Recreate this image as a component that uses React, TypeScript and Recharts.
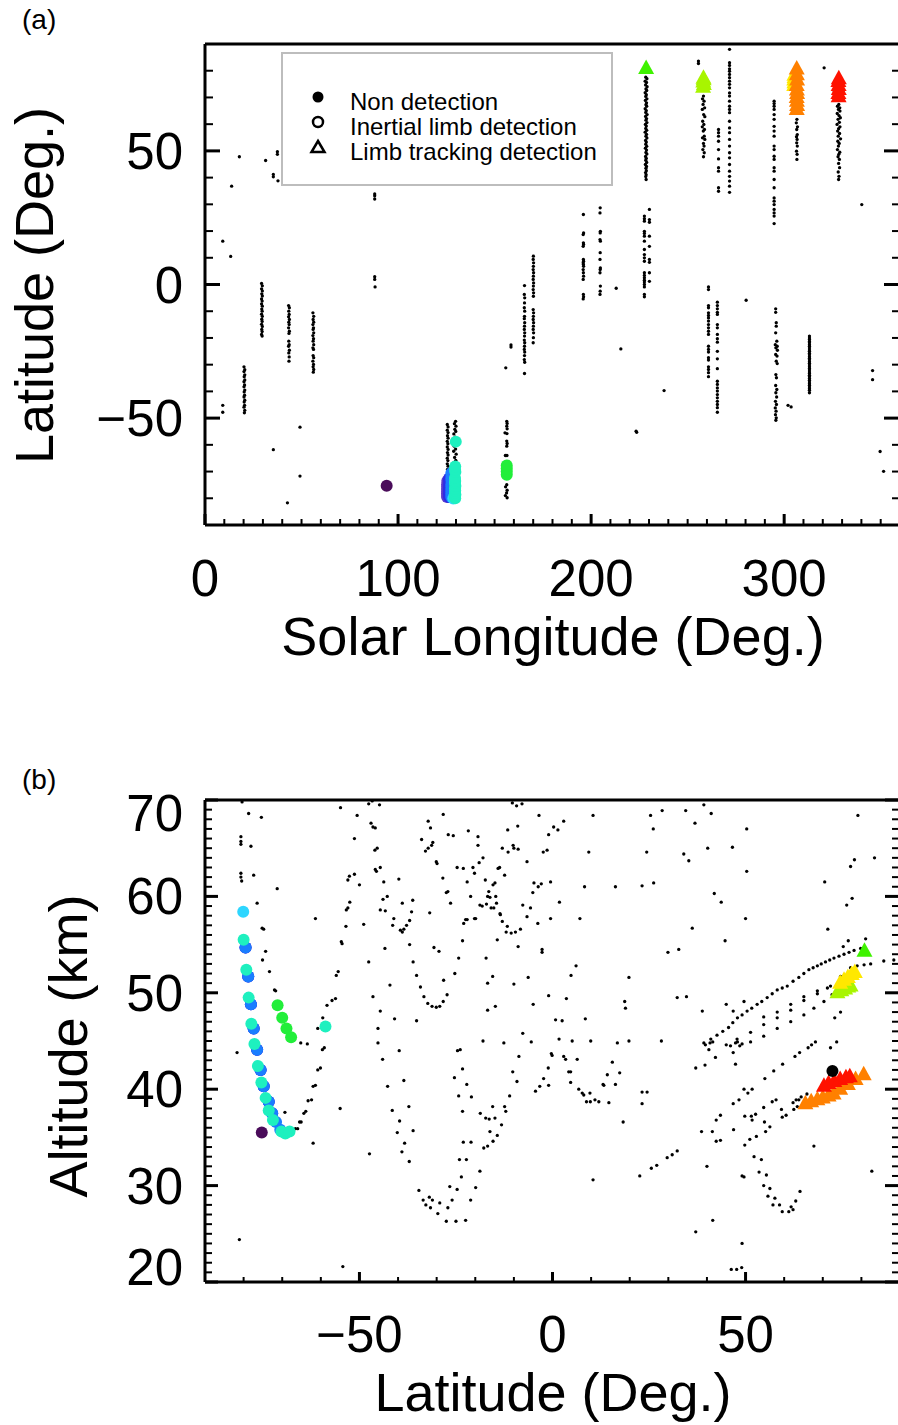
import React from 'react';
import { ScatterChart, Scatter, XAxis, YAxis } from 'recharts';

type P2 = [number, number];
type P3 = [number, number, number];

const FONT = '"Liberation Sans", Arial, Helvetica, sans-serif';

// ---------------- axis ticks ----------------
const lsTicks = [0, 10, 20, 30, 40, 50, 60, 70, 80, 90, 100, 110, 120, 130, 140, 150, 160, 170, 180, 190, 200, 210, 220, 230, 240, 250, 260, 270, 280, 290, 300, 310, 320, 330, 340, 350, 360];
const lsLabels = [0, 100, 200, 300];
const latTicks = [-90, -80, -70, -60, -50, -40, -30, -20, -10, 0, 10, 20, 30, 40, 50, 60, 70, 80, 90];
const latLabels = [-50, 0, 50];
const altTicks = [20, 21, 22, 23, 24, 25, 26, 27, 28, 29, 30, 31, 32, 33, 34, 35, 36, 37, 38, 39, 40, 41, 42, 43, 44, 45, 46, 47, 48, 49, 50, 51, 52, 53, 54, 55, 56, 57, 58, 59, 60, 61, 62, 63, 64, 65, 66, 67, 68, 69, 70];
const altLabels = [20, 30, 40, 50, 60, 70];

// ---------------- panel (a): non detections [Ls, latitude] ----------------
const ndLsLatEarly: P2[] = [
  [9.2, 16.2], [13.3, 10.5], [13.8, 36.8], [17.8, 47.8], [31.4, 46.4], [35.4, 41.2], [35.4, 40.3], [37.5, 49.7], [37.5, 48.7], [37.8, 38.8],
  [87.9, 33.9], [87.9, 33.2], [87.9, 32.0], [87.9, 2.9], [87.9, 1.9], [88.1, -0.9],
  [9.2, -45.2], [9.2, -47.8], [35.4, -61.8], [49.2, -53.4], [49.2, -71.7], [42.7, -81.7],
  [20.2, -30.8], [20.6, -31.9], [20.2, -32.6], [20.6, -33.8], [20.3, -34.5], [20.6, -35.7], [20.2, -36.4], [20.5, -37.6], [20.2, -38.3], [20.6, -39.5],
  [20.3, -40.2], [20.5, -41.4], [20.2, -42.1], [20.6, -43.3], [20.3, -44.0], [20.5, -45.2], [20.2, -45.9], [20.6, -47.1], [20.4, -48.0],
  [29.3, 0.4], [29.7, -0.5], [29.3, -1.6], [29.7, -2.4], [29.4, -3.5], [29.7, -4.3], [29.3, -5.4], [29.6, -6.2], [29.3, -7.3], [29.7, -8.1], [29.4, -9.2],
  [29.6, -10.0], [29.3, -11.1], [29.7, -11.9], [29.4, -13.0], [29.6, -13.8], [29.3, -14.9], [29.7, -15.7], [29.4, -16.8], [29.6, -17.6], [29.3, -18.7], [29.6, -19.3],
  [43.3, -7.9], [43.7, -8.7], [43.4, -10.0], [43.6, -11.2], [43.3, -12.1], [43.7, -13.1], [43.4, -14.1], [43.6, -15.0], [43.3, -16.2], [43.7, -17.5],
  [43.5, -18.3], [43.4, -21.2], [43.6, -22.5], [43.3, -23.1], [43.7, -24.6], [43.4, -25.6], [43.6, -27.1], [43.5, -28.7],
  [55.9, -10.6], [56.3, -11.9], [56.0, -13.1], [56.3, -14.1], [55.9, -15.0], [56.2, -16.2], [56.0, -16.8], [56.3, -18.1], [55.9, -19.1], [56.2, -20.3],
  [56.0, -21.2], [56.3, -22.5], [55.9, -23.7], [56.2, -24.3], [56.0, -26.6], [56.3, -27.4], [55.9, -28.7], [56.2, -29.9], [56.0, -30.8], [56.3, -31.8], [56.1, -32.8],
];

const ndLsLatMid: P2[] = [
  [125.5, -52.4], [125.9, -53.3], [125.5, -54.5], [125.9, -55.4], [125.6, -56.6], [125.9, -57.5], [125.5, -58.7], [125.8, -59.6], [125.5, -60.8], [125.9, -61.7],
  [125.6, -62.9], [125.9, -63.8], [125.5, -65.0], [125.8, -65.9], [125.5, -67.1], [125.9, -68.0], [125.6, -69.2], [125.8, -70.1], [125.5, -71.3], [125.9, -72.2],
  [125.6, -73.4], [125.8, -74.5], [125.5, -75.6], [125.9, -76.7], [125.6, -77.8], [125.8, -78.9], [125.5, -80.0], [125.8, -81.1],
  [129.8, -51.2], [129.2, -52.1], [130.0, -53.0], [129.4, -54.2], [129.9, -55.0], [128.9, -55.9], [129.6, -57.1], [130.3, -58.0], [129.1, -60.5], [129.8, -61.6],
  [128.8, -62.4], [130.1, -63.5], [129.3, -64.7], [129.9, -65.8], [129.0, -66.6], [130.4, -67.5], [128.9, -74.0], [128.7, -78.0],
  [156.3, -51.2], [156.5, -52.0], [156.3, -53.0], [156.5, -54.0], [155.4, -55.5], [156.4, -55.8], [156.3, -58.6], [156.5, -59.5], [156.3, -60.5], [155.6, -64.0],
  [156.4, -64.0], [156.3, -74.9], [155.7, -75.7], [156.5, -77.0], [156.2, -78.0], [155.6, -79.0], [156.5, -79.8], [155.8, -31.2], [158.5, -22.6], [158.5, -23.4],
  [165.5, -0.4], [165.4, -3.7], [165.6, -5.0], [165.5, -6.9], [165.4, -8.7], [165.6, -10.0], [165.5, -11.9], [165.4, -12.8], [165.6, -14.3], [165.5, -15.6],
  [165.4, -16.8], [165.6, -18.1], [165.5, -19.3], [165.4, -20.8], [165.6, -21.8], [165.5, -23.1], [165.4, -24.3], [165.6, -25.3], [165.5, -26.6], [165.4, -28.1],
  [165.6, -29.1], [165.5, -33.3],
  [170.1, 10.6], [170.0, 9.4], [170.2, 8.1], [170.1, 6.8], [170.0, 5.6], [170.2, 4.4], [170.1, 3.1], [170.0, 1.9], [170.2, 0.6], [170.1, -0.6], [170.0, -1.9],
  [170.2, -3.1], [170.1, -4.4], [170.0, -9.4], [170.2, -10.6], [170.1, -11.9], [170.0, -13.1], [170.2, -14.3], [170.1, -15.6], [170.0, -16.8], [170.2, -18.1],
  [170.1, -19.9], [170.0, -21.8],
];

const ndLsLatLate: P2[] = [
  [196.0, 26.2], [196.1, 19.3], [195.9, 18.7], [196.0, 15.6], [196.1, 15.0], [195.9, 14.3], [196.0, 9.4], [196.1, 8.7], [195.9, 8.1], [196.0, 7.5], [196.1, 6.8],
  [195.9, 5.6], [196.0, 4.4], [196.1, 3.1], [195.9, 1.9], [196.0, -3.7], [196.1, -4.6], [195.9, -5.4],
  [204.7, 28.7], [204.6, 26.8], [204.8, 19.9], [204.7, 19.3], [204.6, 16.8], [204.8, 16.2], [204.7, 11.9], [204.6, 9.4], [204.8, 6.2], [204.7, 5.6], [204.6, 4.4],
  [204.8, -0.6], [204.7, -2.5], [204.6, -3.7], [213.0, -1.4],
  [227.6, 25.6], [227.6, 24.6], [227.6, 23.7], [227.6, 19.9], [227.6, 19.1], [227.6, 18.1], [227.6, 16.2], [227.6, 13.1], [227.6, 11.2], [227.6, 10.0],
  [227.6, 8.7], [227.6, 4.4], [227.6, 3.4], [227.6, 2.5], [227.6, 1.6], [227.6, 0.9], [227.6, 0.0], [227.6, -0.9], [227.6, -3.7], [227.6, -4.6],
  [230.2, 28.1], [230.2, 24.3], [230.2, 23.3], [230.2, 18.1], [230.2, 14.3], [230.2, 9.4], [230.2, 8.3], [230.2, 4.4], [230.2, 1.2],
  [215.4, -24.1], [237.8, -39.7], [223.3, -54.9], [223.6, -55.3], [280.3, -5.9],
  [228.3, 77.6], [228.9, 77.0], [228.0, 76.1], [228.7, 75.6], [228.2, 74.7], [229.0, 74.0], [228.4, 73.2], [228.8, 72.6], [228.0, 71.8], [228.6, 71.0],
  [228.3, 70.4], [228.9, 69.5], [228.1, 68.9], [228.7, 68.0], [228.4, 67.3], [228.8, 66.7], [228.0, 65.8], [228.6, 65.1], [228.3, 64.4], [229.0, 63.6],
  [228.2, 62.9], [228.7, 62.1], [228.4, 61.5], [228.9, 60.6], [228.1, 59.9], [228.6, 59.3], [228.3, 58.4], [228.8, 57.7], [228.0, 57.0], [228.7, 56.2],
  [228.4, 55.5], [228.9, 54.8], [228.2, 53.9], [228.6, 53.3], [228.3, 52.5], [228.8, 51.7], [228.1, 51.0], [228.7, 50.3], [228.4, 49.4], [228.9, 48.8],
  [228.2, 47.9], [228.6, 47.2], [228.3, 46.5], [228.8, 45.7], [228.1, 44.9], [228.7, 44.2], [228.4, 43.5], [228.6, 42.6], [228.2, 41.9], [228.5, 41.1],
  [228.3, 40.4], [228.5, 39.3],
  [255.6, 83.6], [255.6, 82.7],
  [258.2, 70.5], [257.7, 69.5], [258.5, 68.6], [258.0, 67.4], [258.8, 66.1], [257.6, 65.5], [258.3, 63.6], [258.9, 62.8], [257.8, 61.1], [258.4, 59.9],
  [257.6, 59.0], [258.7, 58.0], [258.1, 57.4], [258.6, 55.5], [257.7, 54.9], [258.9, 54.3], [258.2, 52.8], [258.5, 51.8], [257.9, 50.5], [258.6, 49.3], [258.2, 47.8],
  [266.0, 58.0], [266.0, 56.8], [266.0, 55.5], [266.0, 53.6], [266.0, 50.5], [266.0, 47.0], [266.0, 43.7], [266.0, 42.4], [266.0, 36.2], [266.0, 34.9],
  [271.7, 88.0], [271.7, 83.0], [271.7, 82.0], [271.7, 80.7], [271.7, 79.8], [271.7, 78.6], [271.7, 77.4], [271.7, 76.1], [271.7, 74.9], [271.7, 73.6],
  [271.7, 71.7], [271.7, 70.5], [271.7, 68.6], [271.7, 66.7], [271.7, 65.5], [271.7, 64.3], [271.7, 61.1], [271.7, 58.6], [271.7, 56.8], [271.7, 54.3],
  [271.7, 51.8], [271.7, 49.3], [271.7, 47.4], [271.7, 44.9], [271.7, 42.4], [271.7, 40.5], [271.7, 38.7], [271.7, 36.8], [271.7, 34.5],
  [294.8, 68.6], [294.8, 67.7], [294.8, 66.7], [294.8, 65.5], [294.8, 63.6], [294.8, 61.8], [294.8, 59.2], [294.8, 57.4], [294.8, 55.5], [294.8, 51.8],
  [294.8, 50.5], [294.8, 48.0], [294.8, 46.8], [294.8, 43.7], [294.8, 42.4], [294.8, 39.3], [294.8, 36.2], [294.8, 32.4], [294.8, 31.2], [294.8, 29.9],
  [294.8, 28.1], [294.8, 26.8], [294.8, 25.6], [294.8, 22.8],
  [306.6, 61.8], [306.3, 60.5], [306.9, 59.0], [306.5, 58.0], [306.8, 56.1], [306.4, 55.3], [306.7, 54.3], [306.5, 53.0], [306.8, 51.8], [306.4, 49.9],
  [306.7, 48.7], [306.6, 46.8], [320.7, 81.1],
  [328.3, 67.4], [327.6, 66.7], [328.8, 66.1], [328.1, 65.5], [328.9, 64.9], [327.5, 64.0], [328.4, 63.2], [329.1, 62.4], [327.9, 61.8], [328.6, 60.7],
  [327.4, 59.9], [328.9, 59.0], [328.2, 58.3], [327.7, 57.4], [328.7, 56.5], [328.0, 55.5], [329.2, 54.5], [327.8, 53.6], [328.5, 52.8], [328.1, 51.8],
  [327.6, 50.5], [328.8, 49.5], [328.3, 48.7], [327.9, 47.8], [328.6, 46.8], [328.2, 45.3], [328.7, 43.7], [328.0, 42.1], [328.4, 40.5], [328.2, 39.3],
  [340.2, 29.9],
  [260.8, -0.9], [260.8, -1.9], [260.8, -7.9], [260.8, -8.7], [260.8, -10.6], [260.8, -11.6], [260.8, -12.5], [260.8, -13.7], [260.8, -15.0], [260.8, -16.2],
  [260.8, -17.5], [260.8, -18.7], [260.8, -23.1], [260.8, -24.3], [260.8, -25.3], [260.8, -27.4], [260.8, -28.3], [260.8, -30.8], [260.8, -31.8], [260.8, -33.0], [260.8, -34.5],
  [265.4, -6.6], [265.4, -7.9], [265.4, -9.1], [265.4, -10.4], [265.4, -11.2], [265.4, -15.0], [265.4, -16.2], [265.4, -18.7], [265.4, -20.3], [265.4, -21.6],
  [265.4, -25.0], [265.4, -27.8], [265.4, -31.5], [265.4, -36.2], [265.4, -37.4], [265.4, -38.7], [265.4, -39.9], [265.4, -41.2], [265.4, -42.4], [265.4, -43.7],
  [265.4, -44.9], [265.4, -46.1], [265.4, -47.8],
  [295.6, -9.1], [295.6, -10.4], [295.9, -14.3], [295.9, -15.6], [295.6, -18.1], [296.2, -21.2], [295.4, -22.5], [296.4, -23.1], [295.7, -23.7], [296.5, -24.6],
  [295.6, -26.2], [296.3, -26.8], [295.9, -28.7], [296.4, -29.6], [295.7, -33.7], [296.0, -34.9], [295.6, -37.8], [296.2, -39.3], [295.7, -40.5], [296.1, -42.1],
  [295.5, -43.7], [296.0, -44.9], [295.4, -46.2], [295.8, -47.4], [295.5, -48.7], [295.9, -49.9], [295.7, -50.8],
  [313.1, -19.3], [313.1, -20.0], [313.1, -20.6], [313.1, -21.3], [313.1, -21.8], [313.1, -22.5], [313.1, -23.1], [313.1, -23.8], [313.1, -24.5], [313.1, -25.0],
  [313.1, -25.7], [313.1, -26.3], [313.1, -27.0], [313.1, -27.6], [313.1, -28.2], [313.1, -28.9], [313.1, -29.5], [313.1, -30.1], [313.1, -30.8], [313.1, -31.4],
  [313.1, -32.0], [313.1, -32.7], [313.1, -33.3], [313.1, -34.0], [313.1, -34.5], [313.1, -35.2], [313.1, -35.8], [313.1, -36.5], [313.1, -37.1], [313.1, -37.7],
  [313.1, -38.4], [313.1, -39.0], [313.1, -39.6], [313.1, -40.5],
  [302.0, -45.2], [303.6, -45.8], [345.8, -32.2], [345.8, -35.6], [349.7, -62.5], [351.5, -69.9],
];

// ---------------- panel (b): non detections [latitude, altitude km] ----------------
const ndLatAltSouth: P2[] = [
  [-80.4, 69.8], [-78.7, 68.6], [-75.4, 68.2], [-80.7, 66.2], [-80.7, 65.7], [-80.7, 65.4], [-78.1, 65.2], [-80.7, 62.4], [-80.7, 62.0], [-80.5, 61.6],
  [-77.4, 62.2], [-71.3, 60.8], [-76.5, 59.3], [-75.2, 56.7], [-74.8, 56.6], [-74.3, 54.3], [-75.1, 53.4], [-73.3, 52.2], [-72.0, 50.3], [-71.7, 50.2],
  [-65.2, 44.8], [-63.5, 44.7], [-61.4, 57.7], [-59.5, 47.4], [-60.8, 46.3], [-58.4, 48.7], [-57.1, 49.2], [-56.2, 49.4], [-56.0, 51.8], [-55.5, 52.2],
  [-54.5, 55.1], [-54.7, 55.3], [-53.5, 56.9], [-53.4, 58.6], [-53.0, 58.8], [-52.5, 59.4], [-53.0, 61.7], [-52.6, 62.1], [-51.3, 62.3], [-50.0, 61.2],
  [-51.3, 66.0], [-50.6, 68.4], [-54.9, 69.2], [-48.9, 57.1], [-47.6, 53.2], [-46.5, 49.6], [-44.6, 48.1], [-45.2, 46.3], [-45.2, 44.8], [-47.6, 69.6],
  [-46.7, 69.9], [-44.8, 69.5], [-47.0, 67.6], [-46.5, 67.2], [-45.9, 67.1], [-46.0, 64.8], [-45.4, 65.0], [-45.9, 62.8], [-45.6, 62.6], [-44.6, 63.0],
  [-43.7, 61.5], [-43.9, 59.7], [-42.8, 60.0], [-44.6, 58.6], [-43.3, 58.5], [-41.1, 57.7], [-41.4, 57.0], [-43.4, 54.6], [-42.1, 50.8], [-40.9, 47.3],
  [-81.7, 43.8], [-81.1, 24.4], [-69.3, 37.6], [-66.6, 35.9], [-66.0, 35.9], [-65.5, 36.6], [-65.1, 36.6], [-64.4, 37.5], [-63.9, 37.7], [-63.3, 38.8],
  [-62.4, 38.9], [-62.0, 40.3], [-61.4, 40.4], [-60.8, 42.0], [-60.1, 42.2], [-59.6, 44.1], [-59.1, 44.3], [-62.0, 34.4], [-55.0, 38.0], [-54.3, 21.6],
  [-47.4, 33.3], [-44.0, 43.1], [-42.7, 40.3], [-41.5, 37.8],
];

const ndLatAltMid: P2[] = [
  [-39.4, 56.5], [-38.5, 56.6], [-38.9, 56.3], [-37.8, 57.0], [-37.0, 57.5], [-38.9, 59.3], [-39.8, 61.8], [-37.0, 55.0], [-36.1, 53.2], [-35.2, 51.8],
  [-34.2, 50.6], [-33.3, 49.6], [-32.3, 48.9], [-31.2, 48.6], [-30.1, 48.5], [-29.2, 48.6], [-28.3, 49.1], [-27.3, 49.8], [-35.2, 47.1], [-36.5, 58.4],
  [-36.2, 59.6], [-33.9, 65.9], [-32.2, 67.8], [-31.6, 67.1], [-31.0, 65.6], [-31.3, 65.3], [-32.9, 64.7], [-32.2, 65.0], [-29.9, 63.4], [-30.1, 63.6],
  [-28.3, 68.5], [-27.5, 60.4], [-27.1, 60.5], [-27.0, 66.4], [-25.7, 66.3], [-28.4, 61.9], [-26.4, 59.3], [-31.8, 58.3], [-30.7, 54.7], [-29.4, 54.3],
  [-24.3, 53.6], [-25.3, 52.0], [-28.2, 51.3], [-23.3, 55.4], [-24.7, 63.0], [-23.1, 62.9], [-21.8, 66.8], [-20.6, 63.0], [-20.2, 62.4], [-19.0, 63.5],
  [-18.0, 64.0], [-19.3, 66.2], [-19.3, 65.3], [-22.1, 61.5], [-23.0, 57.2], [-22.5, 57.6], [-22.1, 57.6], [-21.2, 60.0], [-20.2, 57.7], [-19.9, 57.7],
  [-18.8, 59.1], [-18.2, 59.0], [-17.1, 59.2], [-16.8, 60.0], [-16.2, 59.9], [-16.5, 60.5], [-15.4, 61.2], [-14.9, 61.4], [-15.9, 58.8], [-15.2, 58.8],
  [-14.5, 59.3], [-14.1, 62.9], [-13.7, 63.0], [-14.7, 60.0], [-13.6, 58.2], [-12.4, 62.2], [-13.0, 65.0], [-17.4, 61.7], [-17.2, 53.6], [-16.8, 51.0],
  [-15.5, 51.7], [-16.8, 48.2], [-14.8, 48.6], [-18.0, 45.0], [-12.6, 44.8], [-14.3, 55.5], [-13.5, 58.1], [-13.0, 57.4], [-11.7, 56.9], [-12.0, 56.3],
  [-10.7, 56.2], [-9.6, 56.3], [-8.3, 56.6], [-11.5, 64.6], [-10.2, 65.3], [-10.0, 65.0], [-8.9, 64.9], [-11.6, 66.9], [-9.0, 67.3], [-10.4, 69.7],
  [-9.3, 69.4], [-7.9, 69.6], [-6.6, 63.6], [-7.7, 59.1], [-6.6, 57.9], [-5.7, 58.8], [-8.9, 54.8], [-10.0, 50.9], [-6.3, 51.6], [-5.1, 60.4],
  [-4.8, 61.4], [-3.7, 61.0], [-2.9, 61.3], [-2.7, 54.5], [-2.7, 54.2], [-3.8, 57.2], [-5.0, 48.8], [-7.7, 45.8], [-5.5, 44.9], [-3.5, 68.4],
  [-1.0, 66.4], [-1.4, 64.8], [-2.4, 64.6], [-1.0, 49.7],
  [-39.6, 36.7], [-40.2, 35.5], [-38.3, 34.4], [-39.0, 33.5], [-37.1, 32.5], [-39.7, 44.0], [-38.5, 40.9], [-37.2, 38.2], [-36.1, 35.7], [-34.6, 29.5],
  [-33.5, 28.5], [-32.8, 28.0], [-31.9, 28.8], [-31.1, 28.5], [-31.6, 27.7], [-29.7, 27.1], [-29.2, 28.2], [-27.5, 26.3], [-27.1, 27.7], [-26.6, 29.9],
  [-26.0, 28.5], [-25.0, 26.3], [-24.7, 29.6], [-24.1, 32.7], [-23.6, 30.9], [-23.1, 34.5], [-22.3, 32.7], [-22.5, 26.4], [-21.2, 28.5], [-21.1, 34.5],
  [-19.9, 29.8], [-18.8, 31.5], [-21.0, 39.2], [-22.2, 40.5], [-23.3, 42.1], [-25.4, 41.2], [-24.3, 39.3], [-23.3, 37.7], [-24.6, 44.0], [-23.9, 44.1],
  [-18.7, 37.5], [-17.8, 33.9], [-17.3, 37.0], [-16.8, 34.1], [-16.4, 36.9], [-16.2, 35.6], [-15.4, 34.6], [-15.5, 38.2], [-14.9, 37.0], [-14.3, 35.2],
  [-13.2, 36.3], [-12.4, 38.2], [-12.1, 37.7], [-11.1, 39.3], [-10.3, 41.8], [-9.2, 40.8], [-8.7, 43.4], [-4.4, 39.8], [-3.3, 40.3], [-2.3, 41.1],
  [-1.0, 40.4], [-1.1, 42.2], [-0.3, 43.7],
  [0.3, 67.2], [1.4, 66.9], [2.9, 67.8], [-0.5, 61.5], [1.8, 59.4], [-0.5, 57.7], [4.8, 51.8], [6.1, 52.8], [3.6, 49.4], [0.8, 47.2], [2.5, 47.1],
  [1.7, 45.2], [5.1, 45.0], [9.9, 45.0], [8.5, 47.3], [9.4, 64.6], [8.3, 61.0], [7.1, 57.7],
  [-0.1, 43.5], [2.9, 43.4], [3.4, 43.1], [6.4, 43.1], [4.2, 41.8], [4.7, 41.8], [4.7, 40.7], [6.8, 40.0], [7.7, 39.6], [8.1, 39.4], [8.8, 38.7],
  [9.8, 38.7], [9.7, 39.6],
];

const ndLatAltNorth: P2[] = [
  [10.5, 68.4], [16.3, 61.0], [23.2, 61.1], [26.2, 61.4], [19.8, 51.6], [18.7, 49.1], [18.9, 48.4], [16.8, 44.8], [19.8, 45.0], [25.4, 68.4],
  [28.4, 68.9], [26.1, 67.0], [24.4, 64.6], [34.5, 68.9], [36.9, 67.6], [39.2, 69.5], [41.1, 68.6], [40.2, 65.0], [46.6, 65.1], [34.0, 64.4],
  [35.3, 63.7], [41.9, 60.3], [43.7, 59.4], [44.7, 55.4], [36.2, 56.7], [29.9, 54.2], [32.7, 54.5], [32.3, 49.5], [34.7, 49.6], [38.8, 48.1],
  [45.0, 48.8], [46.8, 48.1], [49.6, 49.1], [50.3, 67.0], [50.3, 62.6], [50.0, 57.7], [70.5, 61.5], [71.3, 56.6], [79.1, 68.4], [78.2, 63.8],
  [77.2, 63.1], [83.4, 64.0], [77.6, 59.8], [76.2, 59.1], [75.3, 54.8], [76.6, 55.4], [81.1, 55.6], [73.1, 47.4], [74.6, 48.0], [73.6, 44.9],
  [68.1, 44.9], [85.8, 53.3], [88.4, 53.4],
  // dotted tracks toward the north polar region
  [39.2, 44.8], [41.0, 45.2], [42.6, 45.6], [44.1, 46.0], [45.6, 46.4], [46.7, 46.9], [47.9, 47.4], [49.1, 47.7], [50.4, 48.1], [51.6, 48.4],
  [53.0, 48.8], [54.2, 49.1], [55.6, 49.5], [56.9, 49.9], [58.2, 50.3], [59.5, 50.5], [60.8, 50.7], [62.3, 51.2], [63.8, 51.6], [65.1, 52.0],
  [66.4, 52.4], [67.5, 52.6], [68.6, 52.8], [69.6, 53.0], [70.7, 53.2], [71.8, 53.4], [72.9, 53.6], [74.2, 53.8], [75.5, 54.0], [76.8, 54.2],
  [78.1, 54.4], [79.8, 54.6],
  [47.8, 45.2], [51.3, 45.9], [54.7, 46.7], [58.2, 47.4], [61.7, 48.2], [65.1, 49.2], [68.6, 49.9], [72.0, 50.7], [74.6, 51.7], [77.2, 52.6],
  [78.9, 52.8], [80.7, 52.9], [82.4, 53.0],
  [54.7, 47.5], [58.2, 48.0], [61.7, 48.8], [65.1, 49.6], [68.6, 50.2], [71.2, 50.5],
  [51.3, 44.9], [54.7, 45.5], [58.2, 46.3], [61.7, 47.0], [65.1, 47.7], [67.7, 48.4], [70.3, 49.1], [72.4, 49.8],
  [11.0, 38.9], [12.0, 38.7], [13.1, 40.5], [13.3, 40.4], [14.6, 38.6], [15.5, 42.8], [16.3, 40.5], [14.2, 41.5], [17.4, 41.7], [18.3, 36.6],
  [10.5, 30.6], [23.2, 39.7], [24.5, 39.7], [23.2, 38.5], [22.6, 31.0], [25.6, 31.8], [27.0, 32.1], [29.7, 32.9], [31.0, 33.2], [32.3, 33.6],
  [28.2, 45.0], [37.1, 42.2], [39.5, 42.5], [40.5, 44.1], [39.6, 44.6], [40.8, 44.8], [41.5, 44.9], [42.2, 43.3], [45.0, 44.6], [46.1, 44.5],
  [46.8, 43.8], [47.4, 44.8], [47.9, 44.9], [48.5, 44.5], [49.1, 44.7], [47.4, 42.6], [48.3, 38.9], [46.8, 38.5], [49.6, 40.0], [50.6, 39.6],
  [51.7, 40.0], [38.6, 35.6], [41.4, 35.6], [42.4, 36.8], [42.4, 34.6], [43.5, 34.7], [43.5, 37.3], [40.0, 32.0], [46.9, 35.8], [49.8, 37.2],
  [51.1, 34.8], [51.5, 37.2], [51.7, 36.8], [52.6, 37.4], [52.8, 35.1], [54.7, 38.1], [54.9, 36.6], [55.2, 35.6], [56.3, 36.1], [56.9, 38.7],
  [57.9, 38.9], [59.3, 37.9], [59.5, 37.1], [60.5, 37.3], [62.3, 38.6], [63.1, 38.9], [63.8, 38.9], [62.5, 37.9], [63.4, 38.2], [64.4, 39.2],
  [65.9, 39.5], [62.8, 43.4], [64.0, 43.8], [66.2, 44.3], [67.1, 44.6], [72.0, 44.3], [57.3, 41.9], [59.6, 42.6], [55.0, 41.1], [49.8, 34.2],
  [52.2, 33.0], [54.1, 32.7], [53.5, 31.4], [55.4, 31.1], [54.7, 30.0], [56.3, 29.7], [55.8, 28.9], [57.6, 28.7], [57.1, 28.0], [58.8, 28.0],
  [59.5, 27.3], [61.2, 27.3], [62.3, 27.5], [61.8, 27.8], [63.0, 28.4], [64.1, 29.4], [67.7, 34.1], [49.1, 31.0], [49.6, 30.9], [49.1, 24.0],
  [41.5, 26.4], [37.1, 25.2], [46.3, 21.3], [47.7, 21.3], [49.0, 21.5], [82.7, 31.5],
];

// ---------------- detections [Ls, latitude, altitude km] ----------------
const obsPurple: P3[] = [[94.1, -75.3, 35.5]];
const obsViolet: P3[] = [[125.4, -79.5, 54.7], [125.5, -78.8, 51.7], [125.4, -78.1, 48.8], [125.5, -77.4, 46.3], [125.4, -76.5, 44.1], [125.5, -75.6, 42.0], [125.4, -74.8, 40.3], [125.5, -73.5, 38.7]];
const obsBlue: P3[] = [[126.4, -79.5, 54.7], [126.5, -78.8, 51.7], [126.4, -78.1, 48.8], [126.5, -77.4, 46.3], [126.4, -76.5, 44.1], [126.5, -75.6, 42.0], [126.4, -74.8, 40.3], [126.5, -73.5, 38.7], [126.4, -72.6, 37.5]];
const obsDodger: P3[] = [[127.6, -79.5, 54.7], [127.7, -78.8, 51.7], [127.6, -78.1, 48.8], [127.7, -77.4, 46.3], [127.6, -76.5, 44.1], [127.7, -75.6, 42.0], [127.6, -74.8, 40.3], [127.7, -73.5, 38.7], [127.6, -72.6, 37.5], [127.7, -71.6, 36.6], [127.6, -70.5, 35.8]];
const obsCyan: P3[] = [[128.6, -80.1, 58.4]];
const obsAqua: P3[] = [[129.6, -80.0, 55.5], [129.5, -79.3, 52.4], [129.7, -78.7, 49.5], [129.5, -78.0, 46.8], [129.6, -77.2, 44.7], [129.5, -76.3, 42.4], [129.7, -75.4, 40.7], [129.5, -74.3, 39.1], [129.6, -73.5, 37.8], [129.5, -72.4, 36.8], [129.7, -70.2, 35.6], [129.5, -69.2, 35.4], [129.6, -68.1, 35.6], [129.9, -58.8, 46.5]];
const obsGreen: P3[] = [[156.3, -71.2, 48.7], [156.3, -70.0, 47.4], [156.3, -68.9, 46.3], [156.3, -67.7, 45.4]];
const obsBlackBig: P3[] = [[328.2, 72.5, 41.9]];
const triGreen: P3[] = [[228.5, 80.8, 54.3]];
const triYellowGreen: P3[] = [[258.0, 73.8, 50.0], [258.4, 74.8, 50.2], [258.1, 75.8, 50.4], [258.3, 76.6, 50.6], [258.2, 77.2, 50.7]];
const triYellow: P3[] = [[305.2, 74.5, 51.0], [305.3, 75.5, 51.3], [305.2, 76.5, 51.6], [305.4, 77.5, 51.9], [305.3, 78.3, 52.1]];
const triOrange: P3[] = [[306.5, 65.5, 38.5], [306.7, 67.0, 38.7], [306.6, 68.6, 38.9], [306.5, 70.0, 39.1], [306.7, 71.5, 39.3], [306.6, 72.8, 39.5], [306.5, 74.5, 40.0], [306.7, 76.5, 40.5], [306.6, 78.5, 41.0], [306.5, 80.6, 41.5]];
const triRed: P3[] = [[328.2, 70.3, 40.3], [328.1, 71.5, 40.6], [328.3, 73.0, 40.8], [328.2, 74.5, 41.0], [328.1, 76.0, 41.2], [328.3, 77.0, 41.3]];

// ---------------- helpers ----------------
const toA = (a: P2[]) => a.map(([x, y]) => ({ x, y }));
const ls3 = (a: P3[]) => a.map(([ls, lat]) => ({ x: ls, y: lat }));
const la3 = (a: P3[]) => a.map(([, lat, alt]) => ({ x: lat, y: alt }));

const fmt = (v: number) => (v < 0 ? '\u2212' + Math.abs(v) : String(v));

const smallDot = (p: any) => <circle cx={p.cx} cy={p.cy} r={1.65} fill="#000" />;
const bigDot = (fill: string) => (p: any) => <circle cx={p.cx} cy={p.cy} r={6} fill={fill} />;
const tri = (fill: string) => (p: any) => (
  <path d={`M${p.cx},${p.cy - 9}L${p.cx + 8},${p.cy + 5.5}L${p.cx - 8},${p.cy + 5.5}Z`} fill={fill} />
);

type Side = 'bottom' | 'top' | 'left' | 'right';
const makeTick = (side: Side, majors: number[], majLen: number, minLen: number, labels?: { dy: (v: number) => number }) => (props: any) => {
  const { x, y, payload } = props;
  const v = payload.value;
  const major = majors.includes(v);
  const len = major ? majLen : minLen;
  let x2 = x, y2 = y;
  if (side === 'bottom') y2 = y - len;
  if (side === 'top') y2 = y + len;
  if (side === 'left') x2 = x + len;
  if (side === 'right') x2 = x - len;
  return (
    <g>
      <line x1={x} y1={y} x2={x2} y2={y2} stroke="#000" strokeWidth={major ? 3 : 2} />
      {labels && major && (
        <text
          x={side === 'left' ? x - 22 : x}
          y={y + labels.dy(v)}
          textAnchor={side === 'left' ? 'end' : 'middle'}
          fontSize={51}
          fontFamily={FONT}
          fill="#000"
        >
          {fmt(v)}
        </text>
      )}
    </g>
  );
};

const axisLine = { stroke: '#000', strokeWidth: 3 };

const series = [
  { key: 'purple', data: obsPurple, color: '#4a0c5a', kind: 'c' },
  { key: 'violet', data: obsViolet, color: '#5b39cc', kind: 'c' },
  { key: 'blue', data: obsBlue, color: '#2d2de6', kind: 'c' },
  { key: 'dodger', data: obsDodger, color: '#1a7dff', kind: 'c' },
  { key: 'cyan', data: obsCyan, color: '#2dd6ff', kind: 'c' },
  { key: 'aqua', data: obsAqua, color: '#1ef0bf', kind: 'c' },
  { key: 'green', data: obsGreen, color: '#22ee3a', kind: 'c' },
  { key: 'tg', data: triGreen, color: '#3ff200', kind: 't' },
  { key: 'tyg', data: triYellowGreen, color: '#a8f500', kind: 't' },
  { key: 'ty', data: triYellow, color: '#ffe800', kind: 't' },
  { key: 'to', data: triOrange, color: '#ff8000', kind: 't' },
  { key: 'tr', data: triRed, color: '#ff1200', kind: 't' },
];

function PanelA() {
  return (
    <ScatterChart width={902} height={700} margin={{ top: 43, right: 1, bottom: 174, left: 204 }}>
      <XAxis xAxisId="b" type="number" dataKey="x" domain={[0, 360]} ticks={lsTicks} interval={0} allowDataOverflow
        height={1} tickLine={false} tickSize={0} tickMargin={0} axisLine={axisLine}
        tick={makeTick('bottom', lsLabels, 11, 6, { dy: () => 71 })} />
      <XAxis xAxisId="t" orientation="top" type="number" domain={[0, 360]} ticks={lsTicks} interval={0} allowDataOverflow
        height={1} tickLine={false} tickSize={0} tickMargin={0} axisLine={axisLine}
        tick={makeTick('top', lsLabels, 12, 7)} />
      <YAxis yAxisId="l" type="number" dataKey="y" domain={[-90, 90]} ticks={latTicks} interval={0} allowDataOverflow
        width={1} tickLine={false} tickSize={0} tickMargin={0} axisLine={axisLine}
        tick={makeTick('left', latLabels, 15, 8, { dy: () => 18 })} />
      <YAxis yAxisId="r" orientation="right" type="number" domain={[-90, 90]} ticks={latTicks} interval={0} allowDataOverflow
        width={1} tickLine={false} tickSize={0} tickMargin={0} axisLine={axisLine}
        tick={makeTick('right', latLabels, 16, 8)} />
      <Scatter xAxisId="b" yAxisId="l" data={toA(ndLsLatEarly)} shape={smallDot} isAnimationActive={false} />
      <Scatter xAxisId="b" yAxisId="l" data={toA(ndLsLatMid)} shape={smallDot} isAnimationActive={false} />
      <Scatter xAxisId="b" yAxisId="l" data={toA(ndLsLatLate)} shape={smallDot} isAnimationActive={false} />
      <Scatter xAxisId="b" yAxisId="l" data={ls3(obsBlackBig)} shape={bigDot('#000')} isAnimationActive={false} />
      {series.map((s) => (
        <Scatter key={s.key} xAxisId="b" yAxisId="l" data={ls3(s.data)} shape={s.kind === 'c' ? bigDot(s.color) : tri(s.color)} isAnimationActive={false} />
      ))}
    </ScatterChart>
  );
}

function PanelB() {
  const altDy = (v: number) => (v === 70 ? 31 : v === 20 ? 3 : 18);
  return (
    <ScatterChart width={902} height={725} margin={{ top: 99, right: 1, bottom: 142, left: 204 }}>
      <XAxis xAxisId="b" type="number" dataKey="x" domain={[-90, 90]} ticks={latTicks} interval={0} allowDataOverflow
        height={1} tickLine={false} tickSize={0} tickMargin={0} axisLine={axisLine}
        tick={makeTick('bottom', latLabels, 10, 5, { dy: () => 70 })} />
      <XAxis xAxisId="t" orientation="top" type="number" domain={[-90, 90]} ticks={latTicks} interval={0} allowDataOverflow
        height={1} tickLine={false} tickSize={0} tickMargin={0} axisLine={axisLine}
        tick={makeTick('top', latLabels, 10, 5)} />
      <YAxis yAxisId="l" type="number" dataKey="y" domain={[20, 70]} ticks={altTicks} interval={0} allowDataOverflow
        width={1} tickLine={false} tickSize={0} tickMargin={0} axisLine={axisLine}
        tick={makeTick('left', altLabels, 13, 7, { dy: altDy })} />
      <YAxis yAxisId="r" orientation="right" type="number" domain={[20, 70]} ticks={altTicks} interval={0} allowDataOverflow
        width={1} tickLine={false} tickSize={0} tickMargin={0} axisLine={axisLine}
        tick={makeTick('right', altLabels, 15, 8)} />
      <Scatter xAxisId="b" yAxisId="l" data={toA(ndLatAltSouth)} shape={smallDot} isAnimationActive={false} />
      <Scatter xAxisId="b" yAxisId="l" data={toA(ndLatAltMid)} shape={smallDot} isAnimationActive={false} />
      <Scatter xAxisId="b" yAxisId="l" data={toA(ndLatAltNorth)} shape={smallDot} isAnimationActive={false} />
      {series.map((s) => (
        <Scatter key={s.key} xAxisId="b" yAxisId="l" data={la3(s.data)} shape={s.kind === 'c' ? bigDot(s.color) : tri(s.color)} isAnimationActive={false} />
      ))}
      <Scatter xAxisId="b" yAxisId="l" data={la3(obsBlackBig)} shape={bigDot('#000')} isAnimationActive={false} />
    </ScatterChart>
  );
}

function Overlay() {
  return (
    <svg width={898} height={1425} style={{ position: 'absolute', left: 0, top: 0, pointerEvents: 'none' }}>
      <text x={22} y={29} fontSize={28} fontFamily={FONT} fill="#000">(a)</text>
      <text x={22} y={789} fontSize={28} fontFamily={FONT} fill="#000">(b)</text>
      <text x={53} y={285.5} fontSize={54} fontFamily={FONT} fill="#000" textAnchor="middle" transform="rotate(-90 53 285.5)">Latitude (Deg.)</text>
      <text x={553} y={655} fontSize={54} fontFamily={FONT} fill="#000" textAnchor="middle">Solar Longitude (Deg.)</text>
      <text x={87} y={1046} fontSize={54} fontFamily={FONT} fill="#000" textAnchor="middle" transform="rotate(-90 87 1046)">Altitude (km)</text>
      <text x={553} y={1411} fontSize={54} fontFamily={FONT} fill="#000" textAnchor="middle">Latitude (Deg.)</text>
      <g>
        <rect x={282} y={53} width={330} height={132} fill="#fff" stroke="#bdbdbd" strokeWidth={2} />
        <circle cx={318} cy={97} r={5.5} fill="#000" />
        <circle cx={318} cy={122} r={5} fill="none" stroke="#000" strokeWidth={2.5} />
        <path d="M318,141L324.5,152L311.5,152Z" fill="none" stroke="#000" strokeWidth={2.5} strokeLinejoin="miter" />
        <text x={350} y={110} fontSize={24} fontFamily={FONT} fill="#000">Non detection</text>
        <text x={350} y={135} fontSize={24} fontFamily={FONT} fill="#000">Inertial limb detection</text>
        <text x={350} y={160} fontSize={24} fontFamily={FONT} fill="#000">Limb tracking detection</text>
      </g>
    </svg>
  );
}

export default function App() {
  return (
    <div style={{ position: 'absolute', left: 0, top: 0, width: 898, height: 1425, overflow: 'hidden', background: '#fff' }}>
      <div style={{ position: 'absolute', left: 0, top: 0 }}>
        <PanelA />
      </div>
      <div style={{ position: 'absolute', left: 0, top: 700 }}>
        <PanelB />
      </div>
      <Overlay />
    </div>
  );
}
